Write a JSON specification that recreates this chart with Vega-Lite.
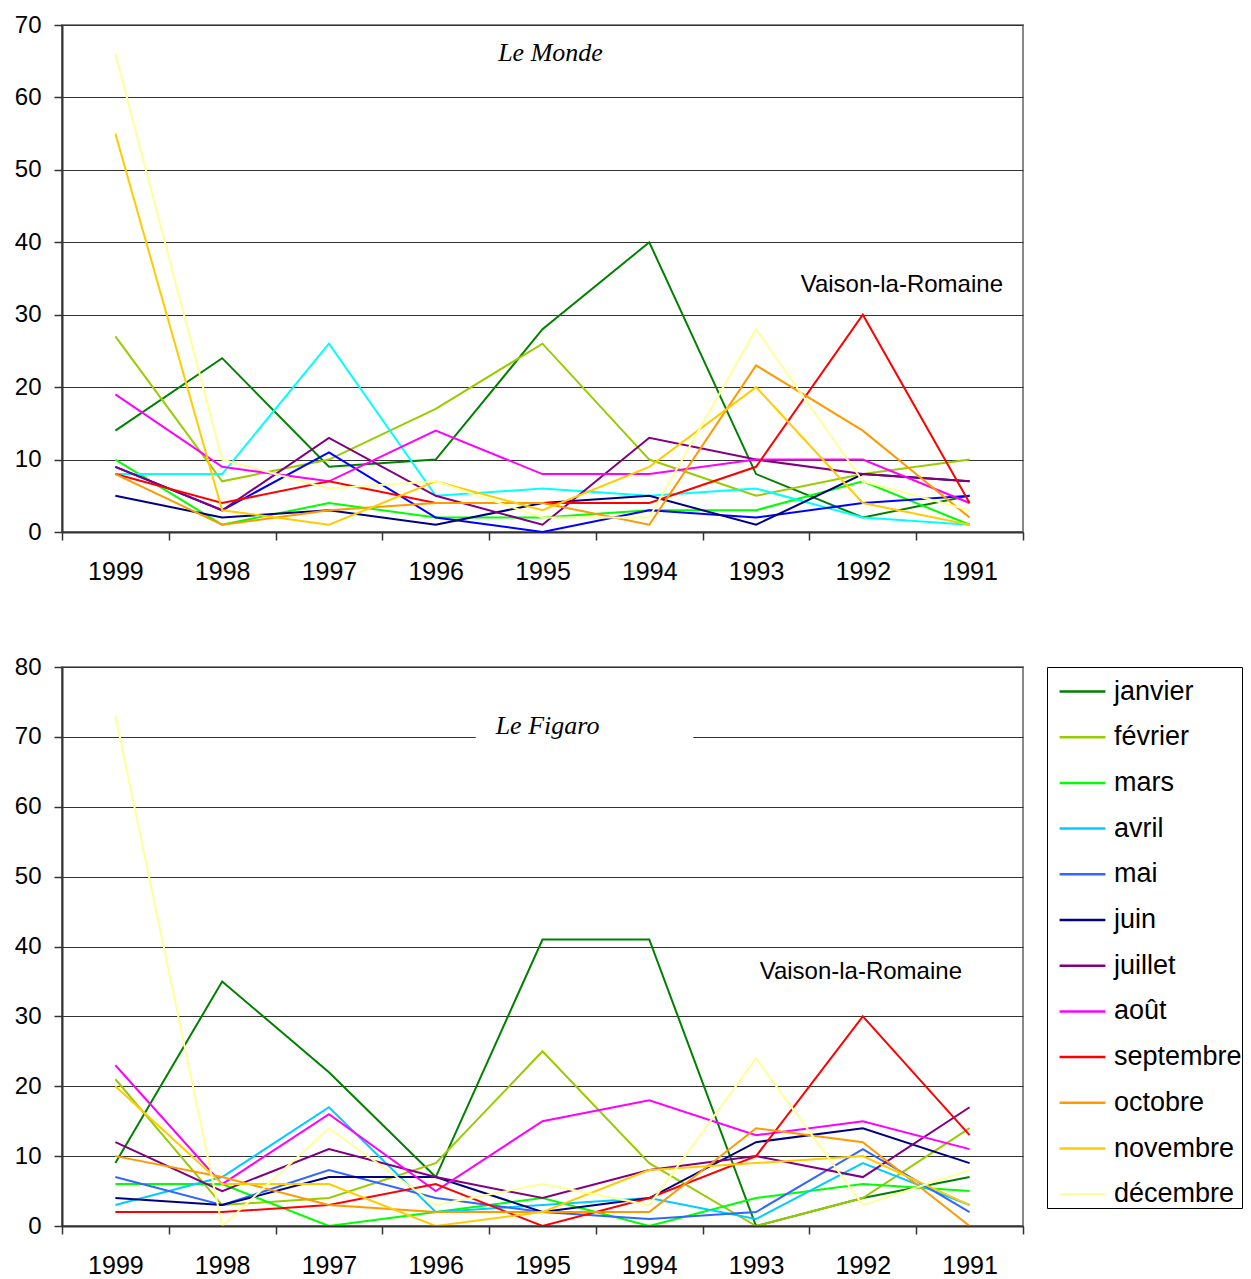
{
  "$schema": "https://vega.github.io/schema/vega-lite/v6.json",
  "padding": {"left": 13, "top": 12, "right": 0, "bottom": 2},
  "background": "white",
  "config": {
    "font": "Liberation Sans",
    "view": {"stroke": "#888888", "strokeWidth": 2},
    "axisX": {
      "title": null, "labelAngle": 0, "labelFontSize": 25, "labelColor": "#000000",
      "labelPadding": 19, "tickBand": "extent", "tickSize": 8, "tickColor": "#333333", "tickWidth": 1.5,
      "domainColor": "#333333", "domainWidth": 2, "grid": false
    },
    "axisY": {
      "title": null, "labelFontSize": 24, "labelColor": "#000000", "labelPadding": 13,
      "tickSize": 8, "tickColor": "#333333", "tickWidth": 1.5, "domainColor": "#333333", "domainWidth": 2,
      "grid": true, "gridColor": "#333333", "gridWidth": 1
    }
  },
  "datasets": {
    "monde": [
      {"annee": "1999", "mois": "janvier", "n": 14}, {"annee": "1998", "mois": "janvier", "n": 24}, {"annee": "1997", "mois": "janvier", "n": 9}, {"annee": "1996", "mois": "janvier", "n": 10}, {"annee": "1995", "mois": "janvier", "n": 28}, {"annee": "1994", "mois": "janvier", "n": 40}, {"annee": "1993", "mois": "janvier", "n": 8}, {"annee": "1992", "mois": "janvier", "n": 2}, {"annee": "1991", "mois": "janvier", "n": 5},
      {"annee": "1999", "mois": "février", "n": 27}, {"annee": "1998", "mois": "février", "n": 7}, {"annee": "1997", "mois": "février", "n": 10}, {"annee": "1996", "mois": "février", "n": 17}, {"annee": "1995", "mois": "février", "n": 26}, {"annee": "1994", "mois": "février", "n": 10}, {"annee": "1993", "mois": "février", "n": 5}, {"annee": "1992", "mois": "février", "n": 8}, {"annee": "1991", "mois": "février", "n": 10},
      {"annee": "1999", "mois": "mars", "n": 10}, {"annee": "1998", "mois": "mars", "n": 1}, {"annee": "1997", "mois": "mars", "n": 4}, {"annee": "1996", "mois": "mars", "n": 2}, {"annee": "1995", "mois": "mars", "n": 2}, {"annee": "1994", "mois": "mars", "n": 3}, {"annee": "1993", "mois": "mars", "n": 3}, {"annee": "1992", "mois": "mars", "n": 7}, {"annee": "1991", "mois": "mars", "n": 1},
      {"annee": "1999", "mois": "avril", "n": 8}, {"annee": "1998", "mois": "avril", "n": 8}, {"annee": "1997", "mois": "avril", "n": 26}, {"annee": "1996", "mois": "avril", "n": 5}, {"annee": "1995", "mois": "avril", "n": 6}, {"annee": "1994", "mois": "avril", "n": 5}, {"annee": "1993", "mois": "avril", "n": 6}, {"annee": "1992", "mois": "avril", "n": 2}, {"annee": "1991", "mois": "avril", "n": 1},
      {"annee": "1999", "mois": "mai", "n": 9}, {"annee": "1998", "mois": "mai", "n": 3}, {"annee": "1997", "mois": "mai", "n": 11}, {"annee": "1996", "mois": "mai", "n": 2}, {"annee": "1995", "mois": "mai", "n": 0}, {"annee": "1994", "mois": "mai", "n": 3}, {"annee": "1993", "mois": "mai", "n": 2}, {"annee": "1992", "mois": "mai", "n": 4}, {"annee": "1991", "mois": "mai", "n": 5},
      {"annee": "1999", "mois": "juin", "n": 5}, {"annee": "1998", "mois": "juin", "n": 2}, {"annee": "1997", "mois": "juin", "n": 3}, {"annee": "1996", "mois": "juin", "n": 1}, {"annee": "1995", "mois": "juin", "n": 4}, {"annee": "1994", "mois": "juin", "n": 5}, {"annee": "1993", "mois": "juin", "n": 1}, {"annee": "1992", "mois": "juin", "n": 8}, {"annee": "1991", "mois": "juin", "n": 7},
      {"annee": "1999", "mois": "juillet", "n": 9}, {"annee": "1998", "mois": "juillet", "n": 3}, {"annee": "1997", "mois": "juillet", "n": 13}, {"annee": "1996", "mois": "juillet", "n": 5}, {"annee": "1995", "mois": "juillet", "n": 1}, {"annee": "1994", "mois": "juillet", "n": 13}, {"annee": "1993", "mois": "juillet", "n": 10}, {"annee": "1992", "mois": "juillet", "n": 8}, {"annee": "1991", "mois": "juillet", "n": 7},
      {"annee": "1999", "mois": "août", "n": 19}, {"annee": "1998", "mois": "août", "n": 9}, {"annee": "1997", "mois": "août", "n": 7}, {"annee": "1996", "mois": "août", "n": 14}, {"annee": "1995", "mois": "août", "n": 8}, {"annee": "1994", "mois": "août", "n": 8}, {"annee": "1993", "mois": "août", "n": 10}, {"annee": "1992", "mois": "août", "n": 10}, {"annee": "1991", "mois": "août", "n": 4},
      {"annee": "1999", "mois": "septembre", "n": 8}, {"annee": "1998", "mois": "septembre", "n": 4}, {"annee": "1997", "mois": "septembre", "n": 7}, {"annee": "1996", "mois": "septembre", "n": 4}, {"annee": "1995", "mois": "septembre", "n": 4}, {"annee": "1994", "mois": "septembre", "n": 4}, {"annee": "1993", "mois": "septembre", "n": 9}, {"annee": "1992", "mois": "septembre", "n": 30}, {"annee": "1991", "mois": "septembre", "n": 4},
      {"annee": "1999", "mois": "octobre", "n": 8}, {"annee": "1998", "mois": "octobre", "n": 1}, {"annee": "1997", "mois": "octobre", "n": 3}, {"annee": "1996", "mois": "octobre", "n": 4}, {"annee": "1995", "mois": "octobre", "n": 4}, {"annee": "1994", "mois": "octobre", "n": 1}, {"annee": "1993", "mois": "octobre", "n": 23}, {"annee": "1992", "mois": "octobre", "n": 14}, {"annee": "1991", "mois": "octobre", "n": 2},
      {"annee": "1999", "mois": "novembre", "n": 55}, {"annee": "1998", "mois": "novembre", "n": 3}, {"annee": "1997", "mois": "novembre", "n": 1}, {"annee": "1996", "mois": "novembre", "n": 7}, {"annee": "1995", "mois": "novembre", "n": 3}, {"annee": "1994", "mois": "novembre", "n": 9}, {"annee": "1993", "mois": "novembre", "n": 20}, {"annee": "1992", "mois": "novembre", "n": 4}, {"annee": "1991", "mois": "novembre", "n": 1},
      {"annee": "1999", "mois": "décembre", "n": 66}, {"annee": "1998", "mois": "décembre", "n": 10}, {"annee": "1997", "mois": "décembre", "n": 6}, {"annee": "1996", "mois": "décembre", "n": 7}, {"annee": "1995", "mois": "décembre", "n": 2}, {"annee": "1994", "mois": "décembre", "n": 2}, {"annee": "1993", "mois": "décembre", "n": 28}, {"annee": "1992", "mois": "décembre", "n": 7}, {"annee": "1991", "mois": "décembre", "n": 3}
    ],
    "figaro": [
      {"annee": "1999", "mois": "janvier", "n": 9}, {"annee": "1998", "mois": "janvier", "n": 35}, {"annee": "1997", "mois": "janvier", "n": 22}, {"annee": "1996", "mois": "janvier", "n": 7}, {"annee": "1995", "mois": "janvier", "n": 41}, {"annee": "1994", "mois": "janvier", "n": 41}, {"annee": "1993", "mois": "janvier", "n": 0}, {"annee": "1992", "mois": "janvier", "n": 4}, {"annee": "1991", "mois": "janvier", "n": 7},
      {"annee": "1999", "mois": "février", "n": 21}, {"annee": "1998", "mois": "février", "n": 3}, {"annee": "1997", "mois": "février", "n": 4}, {"annee": "1996", "mois": "février", "n": 9}, {"annee": "1995", "mois": "février", "n": 25}, {"annee": "1994", "mois": "février", "n": 9}, {"annee": "1993", "mois": "février", "n": 0}, {"annee": "1992", "mois": "février", "n": 4}, {"annee": "1991", "mois": "février", "n": 14},
      {"annee": "1999", "mois": "mars", "n": 6}, {"annee": "1998", "mois": "mars", "n": 6}, {"annee": "1997", "mois": "mars", "n": 0}, {"annee": "1996", "mois": "mars", "n": 2}, {"annee": "1995", "mois": "mars", "n": 4}, {"annee": "1994", "mois": "mars", "n": 0}, {"annee": "1993", "mois": "mars", "n": 4}, {"annee": "1992", "mois": "mars", "n": 6}, {"annee": "1991", "mois": "mars", "n": 5},
      {"annee": "1999", "mois": "avril", "n": 3}, {"annee": "1998", "mois": "avril", "n": 7}, {"annee": "1997", "mois": "avril", "n": 17}, {"annee": "1996", "mois": "avril", "n": 2}, {"annee": "1995", "mois": "avril", "n": 3}, {"annee": "1994", "mois": "avril", "n": 4}, {"annee": "1993", "mois": "avril", "n": 1}, {"annee": "1992", "mois": "avril", "n": 9}, {"annee": "1991", "mois": "avril", "n": 3},
      {"annee": "1999", "mois": "mai", "n": 7}, {"annee": "1998", "mois": "mai", "n": 3}, {"annee": "1997", "mois": "mai", "n": 8}, {"annee": "1996", "mois": "mai", "n": 4}, {"annee": "1995", "mois": "mai", "n": 2}, {"annee": "1994", "mois": "mai", "n": 1}, {"annee": "1993", "mois": "mai", "n": 2}, {"annee": "1992", "mois": "mai", "n": 11}, {"annee": "1991", "mois": "mai", "n": 2},
      {"annee": "1999", "mois": "juin", "n": 4}, {"annee": "1998", "mois": "juin", "n": 3}, {"annee": "1997", "mois": "juin", "n": 7}, {"annee": "1996", "mois": "juin", "n": 7}, {"annee": "1995", "mois": "juin", "n": 2}, {"annee": "1994", "mois": "juin", "n": 4}, {"annee": "1993", "mois": "juin", "n": 12}, {"annee": "1992", "mois": "juin", "n": 14}, {"annee": "1991", "mois": "juin", "n": 9},
      {"annee": "1999", "mois": "juillet", "n": 12}, {"annee": "1998", "mois": "juillet", "n": 5}, {"annee": "1997", "mois": "juillet", "n": 11}, {"annee": "1996", "mois": "juillet", "n": 7}, {"annee": "1995", "mois": "juillet", "n": 4}, {"annee": "1994", "mois": "juillet", "n": 8}, {"annee": "1993", "mois": "juillet", "n": 10}, {"annee": "1992", "mois": "juillet", "n": 7}, {"annee": "1991", "mois": "juillet", "n": 17},
      {"annee": "1999", "mois": "août", "n": 23}, {"annee": "1998", "mois": "août", "n": 6}, {"annee": "1997", "mois": "août", "n": 16}, {"annee": "1996", "mois": "août", "n": 5}, {"annee": "1995", "mois": "août", "n": 15}, {"annee": "1994", "mois": "août", "n": 18}, {"annee": "1993", "mois": "août", "n": 13}, {"annee": "1992", "mois": "août", "n": 15}, {"annee": "1991", "mois": "août", "n": 11},
      {"annee": "1999", "mois": "septembre", "n": 2}, {"annee": "1998", "mois": "septembre", "n": 2}, {"annee": "1997", "mois": "septembre", "n": 3}, {"annee": "1996", "mois": "septembre", "n": 6}, {"annee": "1995", "mois": "septembre", "n": 0}, {"annee": "1994", "mois": "septembre", "n": 4}, {"annee": "1993", "mois": "septembre", "n": 10}, {"annee": "1992", "mois": "septembre", "n": 30}, {"annee": "1991", "mois": "septembre", "n": 13},
      {"annee": "1999", "mois": "octobre", "n": 10}, {"annee": "1998", "mois": "octobre", "n": 7}, {"annee": "1997", "mois": "octobre", "n": 3}, {"annee": "1996", "mois": "octobre", "n": 2}, {"annee": "1995", "mois": "octobre", "n": 2}, {"annee": "1994", "mois": "octobre", "n": 2}, {"annee": "1993", "mois": "octobre", "n": 14}, {"annee": "1992", "mois": "octobre", "n": 12}, {"annee": "1991", "mois": "octobre", "n": 0},
      {"annee": "1999", "mois": "novembre", "n": 20}, {"annee": "1998", "mois": "novembre", "n": 6}, {"annee": "1997", "mois": "novembre", "n": 6}, {"annee": "1996", "mois": "novembre", "n": 0}, {"annee": "1995", "mois": "novembre", "n": 2}, {"annee": "1994", "mois": "novembre", "n": 8}, {"annee": "1993", "mois": "novembre", "n": 9}, {"annee": "1992", "mois": "novembre", "n": 10}, {"annee": "1991", "mois": "novembre", "n": 3},
      {"annee": "1999", "mois": "décembre", "n": 73}, {"annee": "1998", "mois": "décembre", "n": 0}, {"annee": "1997", "mois": "décembre", "n": 14}, {"annee": "1996", "mois": "décembre", "n": 3}, {"annee": "1995", "mois": "décembre", "n": 6}, {"annee": "1994", "mois": "décembre", "n": 3}, {"annee": "1993", "mois": "décembre", "n": 24}, {"annee": "1992", "mois": "décembre", "n": 3}, {"annee": "1991", "mois": "décembre", "n": 8}
    ]
  },
  "spacing": 69,
  "resolve": {"scale": {"color": "independent"}, "legend": {"color": "independent"}},
  "vconcat": [
    {
      "width": 961,
      "height": 507,
      "layer": [
        {
          "data": {"name": "monde"},
          "mark": {"type": "line", "strokeWidth": 2},
          "encoding": {
            "x": {"field": "annee", "type": "ordinal", "sort": "descending", "scale": {"type": "band", "paddingInner": 0, "paddingOuter": 0}},
            "y": {"field": "n", "type": "quantitative", "scale": {"domain": [0, 70], "nice": false}, "axis": {"values": [0, 10, 20, 30, 40, 50, 60, 70]}},
            "color": {
              "field": "mois", "type": "nominal",
              "scale": {
                "domain": ["janvier", "février", "mars", "avril", "mai", "juin", "juillet", "août", "septembre", "octobre", "novembre", "décembre"],
                "range": ["#008000", "#99CC00", "#00FF00", "#00FFFF", "#0000FF", "#000080", "#800080", "#FF00FF", "#FF0000", "#FF9900", "#FFCC00", "#FFFF99"]
              },
              "legend": null
            }
          }
        },
        {
          "data": {"values": [{"t": "Le Monde"}]},
          "mark": {"type": "text", "font": "Liberation Serif", "fontStyle": "italic", "fontSize": 26, "color": "#000000", "align": "center", "baseline": "middle", "dx": 8},
          "encoding": {"x": {"datum": "1995"}, "y": {"datum": 66.2}, "text": {"field": "t"}}
        },
        {
          "data": {"values": [{"t": "Vaison-la-Romaine"}]},
          "mark": {"type": "text", "fontSize": 24, "color": "#000000", "align": "center", "baseline": "middle", "dx": 39},
          "encoding": {"x": {"datum": "1992"}, "y": {"datum": 34.1}, "text": {"field": "t"}}
        }
      ]
    },
    {
      "width": 961,
      "height": 559,
      "layer": [
        {
          "data": {"values": [{"t": "Le Figaro"}]},
          "mark": {"type": "rect", "color": "#ffffff", "xOffset": 40, "x2Offset": 44},
          "encoding": {"x": {"datum": "1996"}, "x2": {"datum": "1994"}, "y": {"datum": 68}, "y2": {"datum": 74}}
        },
        {
          "data": {"name": "figaro"},
          "mark": {"type": "line", "strokeWidth": 2},
          "encoding": {
            "x": {"field": "annee", "type": "ordinal", "sort": "descending", "scale": {"type": "band", "paddingInner": 0, "paddingOuter": 0}},
            "y": {"field": "n", "type": "quantitative", "scale": {"domain": [0, 80], "nice": false}, "axis": {"values": [0, 10, 20, 30, 40, 50, 60, 70, 80]}},
            "color": {
              "field": "mois", "type": "nominal",
              "scale": {
                "domain": ["janvier", "février", "mars", "avril", "mai", "juin", "juillet", "août", "septembre", "octobre", "novembre", "décembre"],
                "range": ["#008000", "#99CC00", "#00FF00", "#00CCFF", "#3366FF", "#000080", "#800080", "#FF00FF", "#FF0000", "#FF9900", "#FFCC00", "#FFFF99"]
              },
              "legend": {
                "title": null, "orient": "right", "offset": 24, "padding": 0,
                "strokeColor": "#000000", "fillColor": "#ffffff",
                "symbolType": "stroke", "symbolSize": 2100, "symbolStrokeWidth": 2.5, "symbolOffset": 11,
                "labelFontSize": 27, "labelColor": "#000000", "labelOffset": 7, "labelLimit": 400,
                "rowPadding": 7.7
              }
            }
          }
        },
        {
          "data": {"values": [{"t": "Le Figaro"}]},
          "mark": {"type": "text", "font": "Liberation Serif", "fontStyle": "italic", "fontSize": 26, "color": "#000000", "align": "center", "baseline": "middle", "dx": 5},
          "encoding": {"x": {"datum": "1995"}, "y": {"datum": 71.5}, "text": {"field": "t"}}
        },
        {
          "data": {"values": [{"t": "Vaison-la-Romaine"}]},
          "mark": {"type": "text", "fontSize": 24, "color": "#000000", "align": "center", "baseline": "middle", "dx": -2},
          "encoding": {"x": {"datum": "1992"}, "y": {"datum": 36.3}, "text": {"field": "t"}}
        }
      ]
    }
  ]
}
